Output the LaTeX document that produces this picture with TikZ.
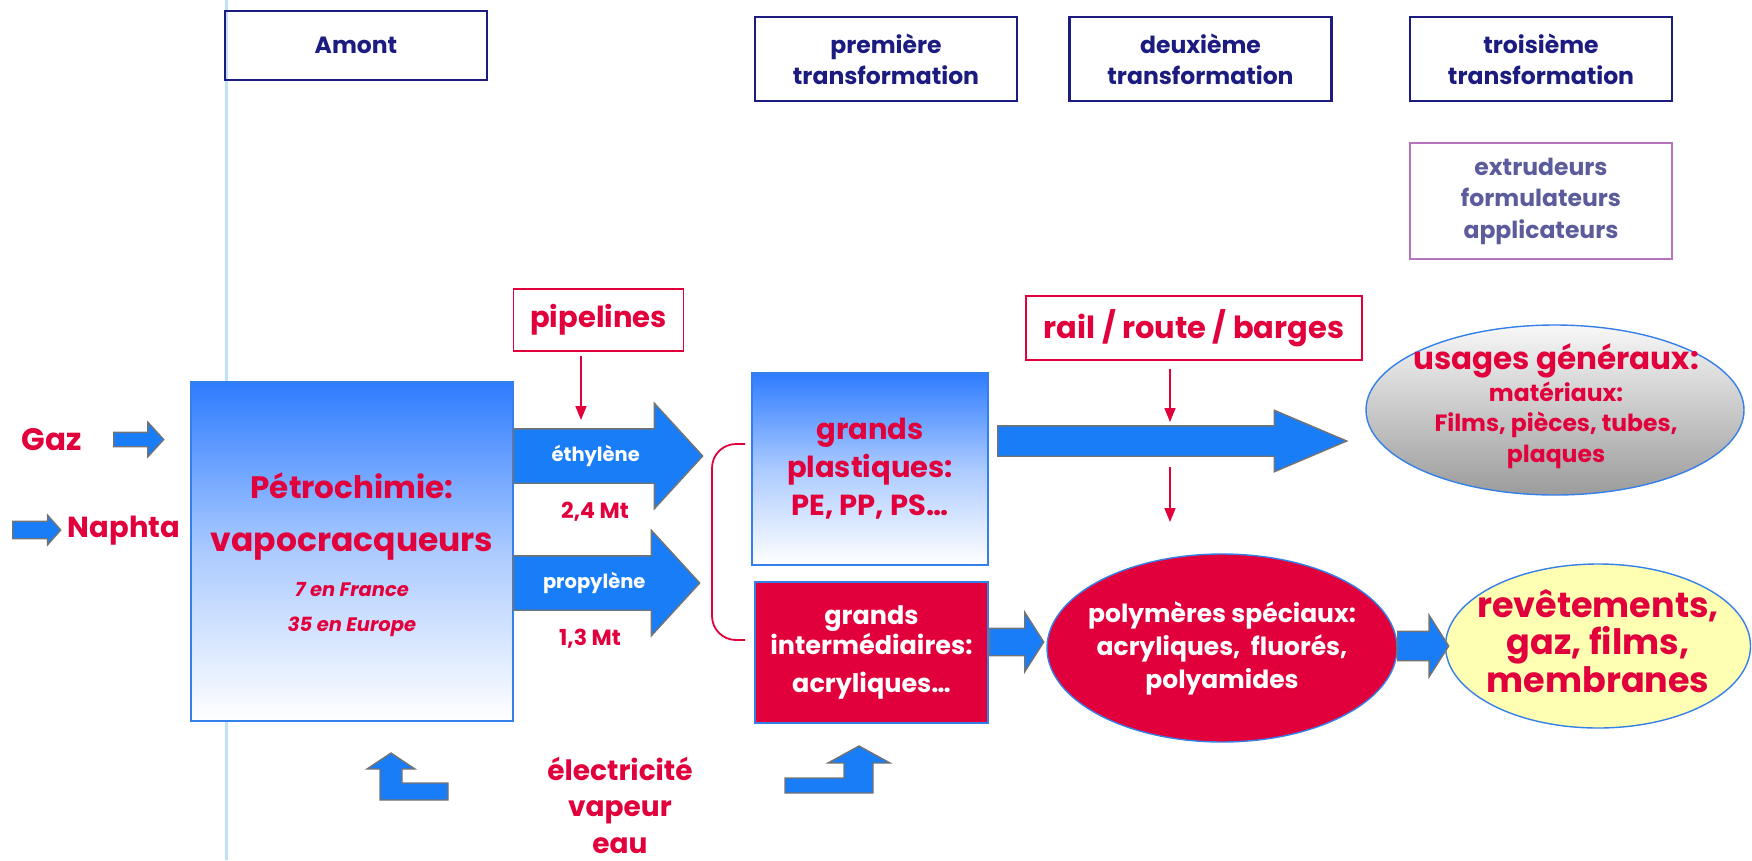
\documentclass[tikz,border=0pt]{standalone}
\usepackage{fontspec}
\setmainfont{Poppins}
\usetikzlibrary{positioning, arrows.meta, calc, shapes.geometric, shapes.arrows}
\definecolor{navyhd}{HTML}{1B1B80}
\definecolor{plumbd}{HTML}{B473BA}
\definecolor{slatetx}{HTML}{5C5C9C}
\definecolor{crimsonred}{HTML}{E1003C}
\definecolor{arrowblue}{HTML}{1A7DF8}
\definecolor{boxblue}{HTML}{2E7CFF}
\definecolor{edgeblue}{HTML}{3580E8}
\definecolor{paleyellow}{HTML}{FFFFB4}
\definecolor{guideblue}{HTML}{BFE2F7}
\newcommand{\fsz}[2]{\fontsize{#1}{#2}\selectfont}

\tikzset{
  hdrbox/.style={draw=navyhd, line width=2.2pt, text=navyhd, font=\fsz{23.5}{31}\bfseries,
    align=center, minimum width=262, minimum height=84, inner sep=0},
  redbox/.style={draw=crimsonred, line width=1.8pt, text=crimsonred,
    font=\fsz{29}{32}\bfseries, inner sep=0},
  gradbox/.style={draw=edgeblue, line width=1.6pt, top color=boxblue,
    bottom color=white, middle color=boxblue!40!white, text=crimsonred, align=center, inner sep=0},
  blockarrow/.style={shape=single arrow, fill=arrowblue, draw=black!55, line width=1.4pt,
    inner xsep=0, text height=10, text depth=0, text=white, font=\fsz{19.5}{20}\bfseries,
    anchor=tail},
  thinarrow/.style={draw=crimsonred, line width=1.6pt, -{Triangle[width=11pt,length=14pt]}},
  bluebubble/.style={ellipse, draw=edgeblue, line width=1.4pt, inner sep=0},
  bubbletext/.style={align=center, inner sep=0},
  redlabel/.style={text=crimsonred, font=\fsz{29}{37}\bfseries, align=center, inner sep=0}
}

\begin{document}
\begin{tikzpicture}[x=1pt, y=-1pt]
  \useasboundingbox (0,0) rectangle (1752,860);
  % guide line
  \draw[guideblue, line width=3pt] (226,0) -- (226,860);

  % column headers
  \node[hdrbox, minimum height=69] (amont) at (356,45.5) {Amont};
  \node[hdrbox] (prem) at (886,59) {première\\transformation};
  \node[hdrbox] (deux) at (1200.5,59) {deuxième\\transformation};
  \node[hdrbox] (trois) at (1541,59) {troisième\\transformation};
  \node[hdrbox, draw=plumbd, text=slatetx, minimum height=116, font=\fsz{23.5}{31.5}\bfseries]
    (acteurs) at (1541,201) {extrudeurs\\formulateurs\\applicateurs};

  % inputs
  \node[redlabel, font=\fsz{31}{37}\bfseries] (gaz) at (52,440) {Gaz};
  \node[redlabel] (naphta) at (124,531) {Naphta};
  \node[blockarrow, minimum height=50, inner ysep=6.5, text height=0,
    single arrow head extend=10, single arrow tip angle=95] (gazarrow) at (113,439.5) {};
  \node[blockarrow, minimum height=48, inner ysep=8, text height=0,
    single arrow head extend=6, single arrow tip angle=97] (naphtaarrow) at (12,530) {};

  % vapocracking
  \node[gradbox, minimum width=322, minimum height=339] (petro) at (352,551.5) {};
  \node[bubbletext, text=crimsonred, font=\fsz{19.5}{35}\bfseries] (petrotext) at (352,555)
    {\fsz{31}{35}Pétrochimie:\\[18pt]\fsz{33}{35}vapocracqueurs\\[10pt]
     \itshape 7 en France\\\itshape 35 en Europe};

  % ethylene / propylene
  \node[redbox, minimum width=170, minimum height=62] (pipe) at (598.5,320) {pipelines};
  \node[blockarrow, minimum height=189, inner ysep=21.5,
    single arrow head extend=25.5, single arrow tip angle=95] (eth) at (513,456) {éthylène};
  \node[blockarrow, minimum height=186, inner ysep=21.5,
    single arrow head extend=25.5, single arrow tip angle=95] (prop) at (513,583) {propylène};
  \node[redlabel, font=\fsz{22}{22}\bfseries] (ethqty) at (595,512) {2,4 Mt};
  \node[redlabel, font=\fsz{22}{22}\bfseries] (propqty) at (590,639) {1,3 Mt};
  \coordinate (pipetip) at (581,420);
  \draw[thinarrow, shorten <=4pt] (pipe.south -| pipetip) -- (pipetip);

  % bracket
  \draw[crimsonred, line width=1.8pt, rounded corners=24] (745,444) -- (712,444) -- (712,640) -- (745,640);

  % first transformation
  \node[gradbox, minimum width=236, minimum height=192, font=\fsz{29}{38}\bfseries] (plast) at (870,469)
    {grands\\plastiques:\\PE, PP, PS\dots};
  \node[draw=edgeblue, fill=crimsonred, line width=1.6pt, minimum width=233, minimum height=141,
    text=white, align=center, font=\fsz{25.5}{30}\bfseries] (inter) at (871.5,652.5)
    {grands\\intermédiaires:\\[8pt]acryliques\dots};

  % transport
  \node[redbox, minimum width=336, minimum height=64, font=\fsz{30.5}{32}\bfseries] (rail) at (1194,328)
    {rail / route / barges};
  \node[blockarrow, minimum height=349, inner ysep=9.5,
    text height=10, single arrow head extend=15.5, single arrow tip angle=46] (bigarrow) at (997,441) {};
  \coordinate (railtip) at (1170,422);
  \coordinate (railfrom) at (1170,467);
  \draw[thinarrow, shorten <=8pt] (rail.south -| railtip) -- (railtip);
  \draw[thinarrow] (railfrom) -- ++(0,55);

  % end uses
  \node[bluebubble, minimum width=378, minimum height=170, top color=gray!6, bottom color=gray!78]
    (usages) at (1555,410) {};
  \node[bubbletext, text=crimsonred, font=\fsz{23.5}{30.5}\bfseries] (usagestext) at (1556,406)
    {\fsz{31}{30.5}usages généraux:\\[1pt]matériaux:\\Films, pièces, tubes,\\plaques};
  \node[bluebubble, minimum width=350, minimum height=188, fill=crimsonred] (poly) at (1222,648) {};
  \node[bubbletext, text=white, font=\fsz{25}{33}\bfseries] (polytext) at (poly)
    {polymères spéciaux:\\acryliques,~ fluorés,\\polyamides};
  \node[bluebubble, minimum width=305, minimum height=164, fill=paleyellow] (revet) at (1598,646) {};
  \node[bubbletext, text=crimsonred, font=\fsz{35}{37.5}\bfseries] (revettext) at (1598,641)
    {revêtements,\\gaz, films,\\membranes};
  \node[blockarrow, minimum height=54, inner ysep=13, text height=0,
    single arrow head extend=16, single arrow tip angle=115] (interarrow) at (989,642) {};
  \node[blockarrow, minimum height=51, inner ysep=14, text height=0,
    single arrow head extend=16, single arrow tip angle=115] (polyarrow) at (1397,646) {};

  % utilities
  \node[redlabel, font=\fsz{28}{36.5}\bfseries] (utilites) at (620,805) {électricité\\vapeur\\eau};
  \filldraw[fill=arrowblue, draw=black!55, line width=1.4pt]
    (391,753) -- (415,769) -- (402,769) -- (402,783) -- (448,783) -- (448,800)
    -- (380,800) -- (380,769) -- (367,769) -- cycle;
  \filldraw[fill=arrowblue, draw=black!55, line width=1.4pt]
    (859,746) -- (890,763) -- (873,763) -- (873,793) -- (785,793) -- (785,778)
    -- (844,778) -- (844,763) -- (828,763) -- cycle;
\end{tikzpicture}
\end{document}
